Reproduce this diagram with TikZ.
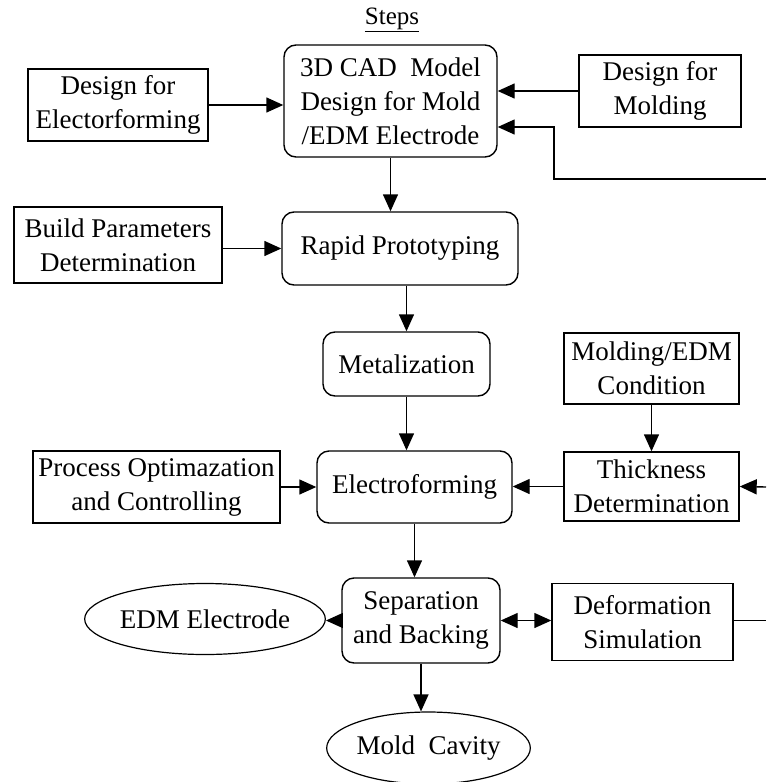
\documentclass[tikz,border=0pt]{standalone}
\usepackage{fontspec}
\setmainfont{Liberation Serif}
\usetikzlibrary{arrows.meta,shapes.geometric}

\begin{document}
\begin{tikzpicture}[x=1pt,y=-1pt,
  every node/.style={font=\fontsize{27}{34}\selectfont, align=center, inner sep=0pt},
  box/.style={draw, line width=1.4pt, rectangle},
  rbox/.style={draw, line width=1.4pt, rectangle, rounded corners=12pt},
  oval/.style={draw, line width=1.2pt, ellipse},
  conn/.style={line width=1.4pt},
  headtip/.tip={Triangle[length=17pt,width=15pt]},
  arr/.style={conn, -headtip},
  darr/.style={conn, headtip-headtip},
]
\useasboundingbox (0,0) rectangle (766,782);

% heading
\node[font=\fontsize{25}{28}\selectfont] (steps) at (392,20) {\underline{Steps}};

% main chain
\node[rbox, minimum width=213pt, minimum height=112pt] (cad) at (390.5,101)
  {3D CAD\ \ Model\\Design for Mold\\/EDM Electrode};
\node[rbox, minimum width=236pt, minimum height=73pt] (rp) at (400,248.5) {Rapid Prototyping};
\node[rbox, minimum width=167pt, minimum height=64pt] (met) at (406.5,364) {Metalization};
\node[rbox, minimum width=195pt, minimum height=72pt] (ele) at (414.5,487) {Electroforming};
\node[rbox, minimum width=158pt, minimum height=85pt] (sep) at (421,620.5) {Separation\\and Backing};
\node[oval, minimum width=187pt, minimum height=72pt] (mold) at (428.5,748) {Mold\ \ Cavity};

% side inputs and outputs
\node[box, minimum width=180pt, minimum height=72pt] (dfe) at (118,105) {Design for\\Electorforming};
\node[box, minimum width=162pt, minimum height=72pt] (dfm) at (660,91) {Design for\\Molding};
\node[box, minimum width=208pt, minimum height=76pt] (bpd) at (118,245) {Build Parameters\\Determination};
\node[box, minimum width=175pt, minimum height=71pt] (mec) at (651.5,368.5) {Molding/EDM\\Condition};
\node[box, minimum width=247pt, minimum height=72pt] (poc) at (156.5,487) {Process Optimazation\\and Controlling};
\node[box, minimum width=175pt, minimum height=69pt] (thk) at (651.5,486.5) {Thickness\\Determination};
\node[oval, minimum width=204pt, minimum height=71pt] (edm) at (205,619) {EDM Electrode};
\node[box, minimum width=181pt, minimum height=77pt] (dsim) at (642.5,622) {Deformation\\Simulation};

% loose ends running off to the right
\coordinate (fbin) at (766,179);
\coordinate (fbturn) at (554,127);
\coordinate (thin) at (766,487);
\coordinate (dsout) at (766,620.5);

% connectors
\draw[arr] (dfe.east) -- (dfe.east -| cad.west);
\draw[arr] (dfm.west) -- (dfm.west -| cad.east);
\draw[arr] (fbin) -| (fbturn) -- (fbturn -| cad.east);
\draw[arr] (cad.south) -- (cad.south |- rp.north);
\draw[arr] (bpd.east |- rp.west) -- (rp.west);
\draw[arr] (met.north |- rp.south) -- (met.north);
\draw[arr] (met.south) -- (met.south |- ele.north);
\draw[arr] (mec.south) -- (thk.north);
\draw[arr] (poc.east) -- (poc.east -| ele.west);
\draw[arr] (thk.west) -- (thk.west -| ele.east);
\draw[arr] (thin) -- (thk.east);
\draw[arr] (ele.south) -- (ele.south |- sep.north);
\draw[arr] (sep.west) -- (sep.west -| edm.east);
\draw[darr] (sep.east) -- (sep.east -| dsim.west);
\draw[conn] (dsout -| dsim.east) -- (dsout);
\draw[arr] (sep.south) -- (sep.south |- mold.north);
\end{tikzpicture}
\end{document}
